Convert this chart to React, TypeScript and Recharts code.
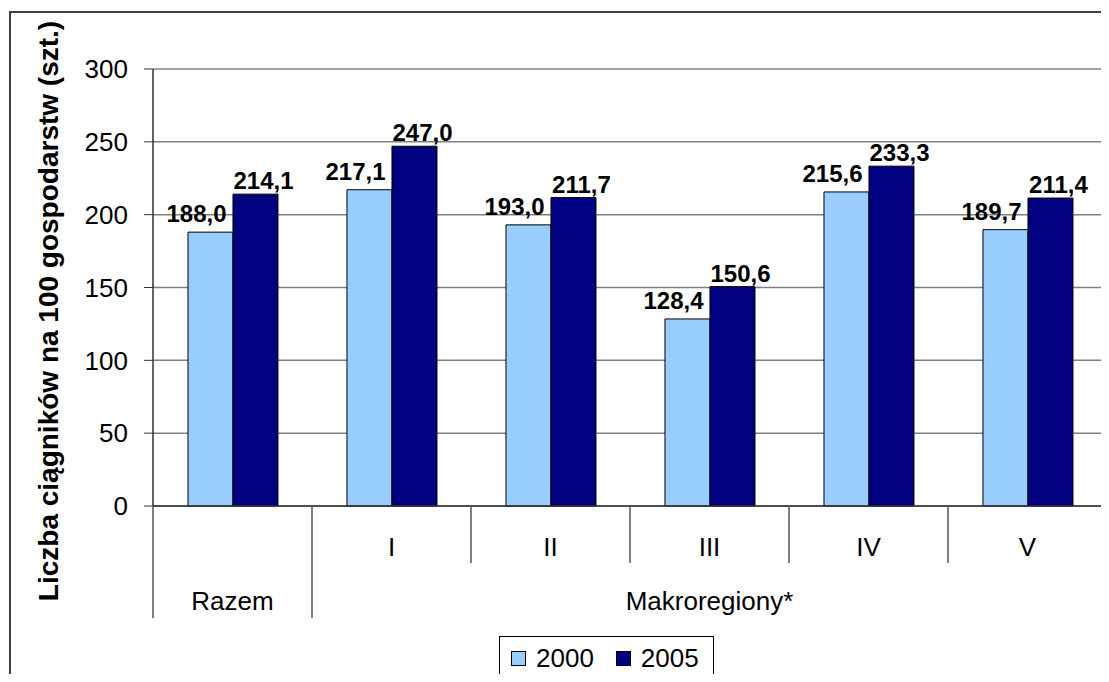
import React from 'react';
import { BarChart, Bar, XAxis, YAxis, CartesianGrid, LabelList } from 'recharts';

const categories = ['Razem', 'I', 'II', 'III', 'IV', 'V'];
const rowLabels = ['', 'I', 'II', 'III', 'IV', 'V'];
const groupLabels = ['Razem', 'Makroregiony*'];
const groupStarts = [0, 1];
const values2000 = [188.0, 217.1, 193.0, 128.4, 215.6, 189.7];
const values2005 = [214.1, 247.0, 211.7, 150.6, 233.3, 211.4];
const seriesNames = ['2000', '2005'];
const seriesColors = ['#99CCFF', '#000080'];
const yTicks = [0, 50, 100, 150, 200, 250, 300];
const yTitle = 'Liczba ciągników na 100 gospodarstw (szt.)';

const data = categories.map((name, i) => ({ name, v2000: values2000[i], v2005: values2005[i] }));

const W = 1109;
const H = 682;
const MARGIN = { top: 69, right: 2, left: 93, bottom: 56 };
const Y_AXIS_W = 60;
const X_AXIS_H = 120;
const PLOT_LEFT = MARGIN.left + Y_AXIS_W;
const PLOT_W = W - MARGIN.right - PLOT_LEFT;
const PLOT_BOTTOM = H - MARGIN.bottom - X_AXIS_H;
const SHORT_END = 563;
const LONG_END = 618;
const FONT = "'Liberation Sans', Arial, sans-serif";

const fmt = (v: number) => v.toFixed(1).replace('.', ',');

function CategoryTick(props: any) {
  const { x, payload } = props;
  const i = categories.indexOf(payload.value);
  const band = PLOT_W / categories.length;
  const left = x - band / 2;
  const right = x + band / 2;
  const g = groupStarts.indexOf(i);
  const parts: React.ReactNode[] = [];
  parts.push(
    <line key="l" x1={left} x2={left} y1={PLOT_BOTTOM} y2={g >= 0 ? LONG_END : SHORT_END} stroke="#555" strokeWidth={1.5} />
  );
  if (i === categories.length - 1) {
    parts.push(<line key="r" x1={right} x2={right} y1={MARGIN.top} y2={LONG_END} stroke="#808080" strokeWidth={2} />);
  }
  if (rowLabels[i]) {
    parts.push(
      <text key="t" x={x} y={556} textAnchor="middle" fontSize={26} fill="#000">{rowLabels[i]}</text>
    );
  }
  if (g >= 0) {
    const end = g + 1 < groupStarts.length ? groupStarts[g + 1] : categories.length;
    const span = end - groupStarts[g];
    parts.push(
      <text key="g" x={left + (span * band) / 2} y={610} textAnchor="middle" fontSize={26} fill="#000">{groupLabels[g]}</text>
    );
  }
  return <g>{parts}</g>;
}

function YTitle() {
  return (
    <text x={58} y={311} transform="rotate(-90 58 311)" textAnchor="middle" fontSize={28} fontWeight="bold" fill="#000">
      {yTitle}
    </text>
  );
}

const makeLabel = (dx: number, off: number) => (p: any) => (
  <text x={p.x + p.width / 2 + dx} y={p.y - off} textAnchor="middle" fontSize={24} fontWeight="bold" fill="#000">
    {fmt(Number(p.value))}
  </text>
);

export default function App() {
  return (
    <div style={{ position: 'relative', width: W, height: H, margin: -8, overflow: 'hidden', background: '#fff', fontFamily: FONT }}>
      <div style={{ position: 'absolute', left: 9, top: 11, width: 1300, height: 900, border: '2px solid #404040' }} />
      <div style={{ position: 'absolute', left: 0, top: 0 }}>
        <BarChart width={W} height={H} data={data} margin={MARGIN} barCategoryGap="22%" barGap={0}>
          <CartesianGrid vertical={false} stroke="#808080" strokeWidth={1.5} />
          <XAxis dataKey="name" height={X_AXIS_H} interval={0} tickLine={false} axisLine={{ stroke: '#333', strokeWidth: 1.5 }} tick={CategoryTick} />
          <YAxis
            width={Y_AXIS_W}
            domain={[0, 300]}
            ticks={yTicks}
            tickSize={9}
            tickMargin={16}
            tick={{ fill: '#000', fontSize: 26 }}
            tickLine={{ stroke: '#333' }}
            axisLine={{ stroke: '#333', strokeWidth: 1.5 }}
            label={<YTitle />}
          />
          <Bar dataKey="v2000" name={seriesNames[0]} fill={seriesColors[0]} stroke="#000" strokeWidth={1} isAnimationActive={false}>
            <LabelList dataKey="v2000" content={makeLabel(-14, 10)} />
          </Bar>
          <Bar dataKey="v2005" name={seriesNames[1]} fill={seriesColors[1]} stroke="#000" strokeWidth={1} isAnimationActive={false}>
            <LabelList dataKey="v2005" content={makeLabel(8, 5)} />
          </Bar>
        </BarChart>
      </div>
      <div
        style={{
          position: 'absolute', left: 499, top: 636, width: 213, height: 43, border: '1px solid #000',
          display: 'flex', alignItems: 'center', fontSize: 26, background: '#fff'
        }}
      >
        {seriesNames.map((s, i) => (
          <div key={s} style={{ display: 'flex', alignItems: 'center', marginLeft: i === 0 ? 11 : 22 }}>
            <span style={{ display: 'inline-block', width: 13, height: 13, background: seriesColors[i], border: '1px solid #000', marginRight: 10 }} />
            <span>{s}</span>
          </div>
        ))}
      </div>
    </div>
  );
}
